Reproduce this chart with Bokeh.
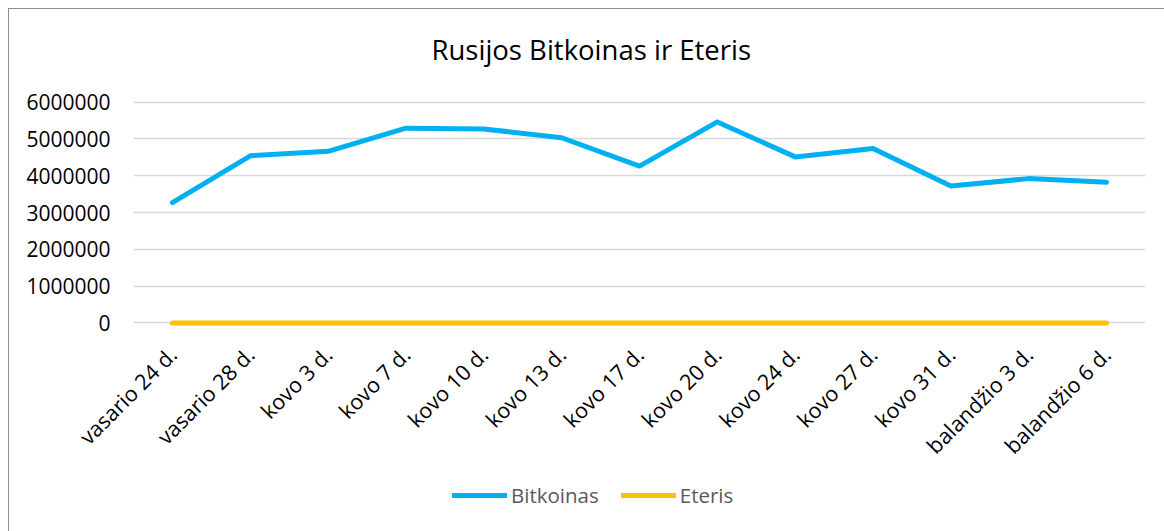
import math
from bokeh.plotting import figure
from bokeh.layouts import column
from bokeh.models import (FactorRange, Range1d, FixedTicker, NumeralTickFormatter,
                          Legend, LegendItem, Label)
from bokeh.embed import file_html
from bokeh.resources import INLINE

title_text = "Rusijos Bitkoinas ir Eteris"
categories = ["vasario 24 d.", "vasario 28 d.", "kovo 3 d.", "kovo 7 d.", "kovo 10 d.",
              "kovo 13 d.", "kovo 17 d.", "kovo 20 d.", "kovo 24 d.", "kovo 27 d.",
              "kovo 31 d.", "balandžio 3 d.", "balandžio 6 d."]
bitkoinas = [3270000, 4540000, 4660000, 5290000, 5270000, 5030000, 4260000,
             5460000, 4510000, 4740000, 3720000, 3920000, 3820000]
eteris = [0, 0, 0, 0, 0, 0, 0, 0, 0, 0, 0, 0, 0]
y_ticks = [0, 1000000, 2000000, 3000000, 4000000, 5000000, 6000000]
series_names = ["Bitkoinas", "Eteris"]
series_values = [bitkoinas, eteris]
series_colors = ["#00B0F0", "#FFC000"]

FONT = "Open Sans"

x_range = FactorRange(factors=categories, range_padding=0)

# header strip with the chart title
hd = figure(width=1155, height=60, output_backend="svg", toolbar_location=None,
            x_axis_type=None, y_axis_type=None, x_range=Range1d(0, 1012), y_range=Range1d(0, 60),
            min_border=0, min_border_left=0, min_border_right=0, min_border_top=0, min_border_bottom=0)
hd.outline_line_color = None
hd.xgrid.visible = False
hd.ygrid.visible = False
hd.add_layout(Label(x=298, y=20, text=title_text, text_font=FONT, text_font_size="27.5px",
                    text_color="#000000", text_align="left", text_baseline="alphabetic"))

p = figure(width=1155, height=409, output_backend="svg", toolbar_location=None,
           x_range=x_range, y_range=Range1d(-150000, 6150000),
           min_border_left=124, min_border_right=19, min_border_top=27, min_border_bottom=150)
p.outline_line_color = None
p.background_fill_color = "white"
p.border_fill_color = "white"

for vals, col in zip(series_values, series_colors):
    p.line(categories, vals, line_color=col, line_width=5, line_cap="round", line_join="round")

p.xgrid.grid_line_color = None
p.ygrid.grid_line_color = "#d9d9d9"
p.ygrid.grid_line_width = 1.5
p.yaxis.ticker = FixedTicker(ticks=y_ticks)
p.yaxis.formatter = NumeralTickFormatter(format="0")

for ax in (p.xaxis[0], p.yaxis[0]):
    ax.axis_line_color = None
    ax.major_tick_line_color = None
    ax.minor_tick_line_color = None
    ax.major_label_text_font = FONT
    ax.major_label_text_color = "#000000"

p.yaxis.major_label_text_font_size = "21px"
p.xaxis.major_label_text_font_size = "21.5px"
p.yaxis.major_label_standoff = 17
p.xaxis.major_label_orientation = math.pi / 4
p.xaxis.major_label_standoff = 16

# legend strip below the chart (same series, drawn outside its visible y range)
lg = figure(width=1155, height=53, output_backend="svg", toolbar_location=None,
            x_axis_type=None, y_axis_type=None, x_range=x_range, y_range=Range1d(-3e9, -2e9),
            min_border=0, min_border_left=0, min_border_right=0, min_border_top=0, min_border_bottom=0)
lg.outline_line_color = None
lg.xgrid.visible = False
lg.ygrid.visible = False
items = []
for name, vals, col in zip(series_names, series_values, series_colors):
    r = lg.line(categories, vals, line_color=col, line_width=5, line_cap="round")
    items.append(LegendItem(label=name, renderers=[r]))
legend = Legend(items=items, orientation="horizontal", location=(319, 22),
                glyph_width=55, glyph_height=24, label_standoff=4, spacing=22,
                padding=0, margin=0, border_line_color=None, background_fill_alpha=0,
                label_text_font=FONT, label_text_font_size="20.5px", label_text_color="#595959")
lg.add_layout(legend, "center")

layout = column(hd, p, lg, spacing=0)
layout.styles = {"margin-left": "8px", "margin-top": "8px",
                 "border-left": "1px solid #8c8c8c", "border-top": "1px solid #8c8c8c"}

open("out.html", "w").write(file_html(layout, INLINE))
